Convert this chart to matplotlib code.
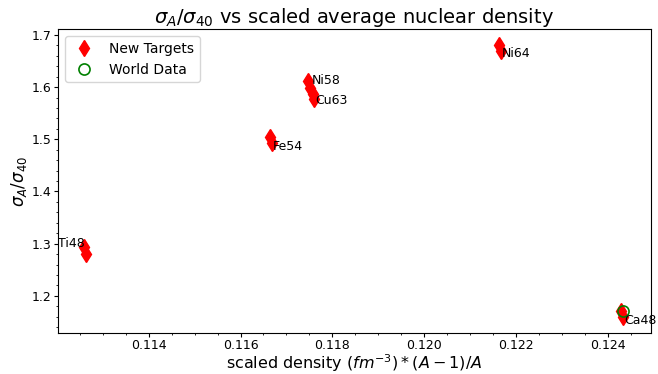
import numpy as np
import matplotlib
matplotlib.use("Agg")
import matplotlib.pyplot as plt

# new targets: two measurements per target (scaled density, cross-section ratio)
targets = ["Ti48", "Fe54", "Ni58", "Cu63", "Ni64", "Ca48"]
density_a = [0.11259, 0.11665, 0.11748, 0.11757, 0.12163, 0.12429]
density_b = [0.11263, 0.11669, 0.11752, 0.11761, 0.12167, 0.12433]
ratio_a = [1.294, 1.504, 1.611, 1.587, 1.681, 1.171]
ratio_b = [1.281, 1.492, 1.598, 1.577, 1.669, 1.160]

# world data
world_density = [0.12433]
world_ratio = [1.171]

# label nudges in pixels (dx, dy, ha)
label_offsets = {
    "Ti48": (0, 3, "right"),
    "Fe54": (1, -10, "left"),
    "Ni58": (2, 1, "left"),
    "Cu63": (2, -8, "left"),
    "Ni64": (2, -9, "left"),
    "Ca48": (2, -10, "left"),
}

fig = plt.figure(figsize=(6.58, 3.74), dpi=100)
ax = fig.add_axes([0.088, 0.11, 0.901, 0.812])

ax.plot(density_a + density_b, ratio_a + ratio_b, "d", color="red",
        markersize=8.5, linestyle="none", label="New Targets")
ax.plot(world_density, world_ratio, "o", markerfacecolor="none",
        markeredgecolor="green", markeredgewidth=1.2, markersize=8,
        linestyle="none", label="World Data")

for i, name in enumerate(targets):
    x = (density_a[i] + density_b[i]) / 2
    y = (ratio_a[i] + ratio_b[i]) / 2
    dx, dy, ha = label_offsets[name]
    ax.annotate(name, (x, y), xytext=(dx, dy), textcoords="offset pixels",
                ha=ha, va="baseline", fontsize=9)

ax.set_xlim(0.112022, 0.124935)
ax.set_ylim(1.129, 1.711)
ax.minorticks_on()
ax.tick_params(labelsize=9, pad=1.5)
ax.tick_params(which="major", length=3)
ax.tick_params(which="minor", length=1.5)

ax.set_title(r"$\sigma_A/\sigma_{40}$ vs scaled average nuclear density",
             fontsize=14, pad=3)
ax.set_xlabel(r"scaled density $(fm^{-3})*(A-1)/A$", fontsize=11.5, labelpad=0)
ax.set_ylabel(r"$\sigma_A/\sigma_{40}$", fontsize=12, labelpad=2)
ax.legend(loc="upper left", fontsize=10)

fig.savefig("out.png", dpi=100)
